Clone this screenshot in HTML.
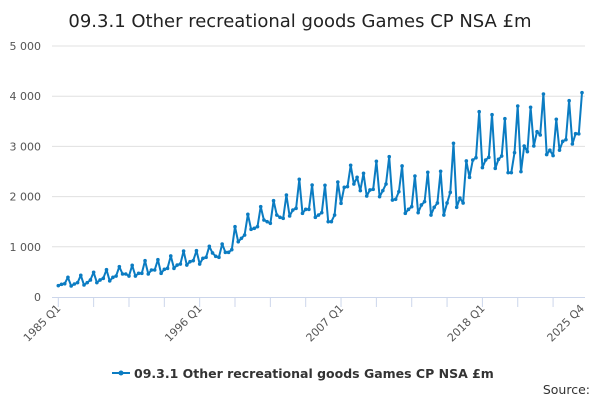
<!DOCTYPE html>
<html><head><meta charset="utf-8"><style>
body{margin:0;background:#fff;font-family:"DejaVu Sans",sans-serif}
svg text{font-family:"DejaVu Sans","Liberation Sans",sans-serif}
</style></head><body>
<svg width="600" height="400" viewBox="0 0 600 400">
<text x="300" y="27" text-anchor="middle" font-size="18" fill="#222">09.3.1 Other recreational goods Games CP NSA £m</text>
<g id="grid"></g>
<g id="xaxis"></g>
<g id="series"></g>
<g>
<line x1="112" y1="373" x2="130" y2="373" stroke="#0b7cc2" stroke-width="2"/>
<circle cx="121" cy="373" r="2.5" fill="#0b7cc2"/>
<text x="134" y="378" font-size="12.5" font-weight="bold" fill="#333">09.3.1 Other recreational goods Games CP NSA £m</text>
</g>
<text x="590" y="394" text-anchor="end" font-size="12.5" fill="#333">Source:</text>
</svg>
<script>
const years=[1985,1986,1987,1988,1989,1990,1991,1992,1993,1994,1995,1996,1997,1998,1999,2000,2001,2002,2003,2004,2005,2006,2007,2008,2009,2010,2011,2012,2013,2014,2015,2016,2017,2018,2019,2020,2021,2022,2023,2024,2025];
const values=[226,252,265,392, 219,259,286,432, 239,286,339,492, 286,339,372,544, 320,392,418,604, 458,458,418,631, 418,471,471,723, 458,538,538,743, 471,551,571,817, 571,637,657,916, 637,704,724,922, 657,770,790,1010, 877,810,790,1056, 890,890,943,1400, 1100,1170,1235,1647, 1348,1368,1401,1800, 1534,1501,1468,1918, 1633,1587,1567,2032, 1614,1733,1766,2344, 1667,1746,1746,2231, 1587,1633,1680,2225, 1501,1501,1633,2291, 1866,2185,2198,2624, 2251,2384,2118,2464, 2012,2132,2145,2703, 1999,2118,2251,2795, 1932,1946,2099,2610, 1667,1746,1800,2410, 1680,1833,1899,2484, 1633,1787,1873,2504, 1633,1873,2085,3062, 1787,1972,1873,2710, 2384,2729,2775,3691, 2577,2729,2782,3631, 2563,2742,2809,3552, 2477,2477,2875,3805, 2497,3008,2895,3779, 3008,3293,3227,4044, 2837,2925,2816,3540, 2925,3101,3134,3910, 3048,3253,3250,4070];
const yTicks=[0,1000,2000,3000,4000,5000];
const yTickLabels=["0","1 000","2 000","3 000","4 000","5 000"];
const xLabelIdx=[0,44,88,132,163];
const xLabels=["1985 Q1","1996 Q1","2007 Q1","2018 Q1","2025 Q4"];
const NS="http://www.w3.org/2000/svg";
const X0=58.3,X1=582,Y0=297,Y1=46,YMAX=5000;
const n=values.length;
const x=i=>X0+i*(X1-X0)/(n-1);
const y=v=>Y0-v*(Y0-Y1)/YMAX;
function mk(tag,attrs,parent){const e=document.createElementNS(NS,tag);for(const k in attrs)e.setAttribute(k,attrs[k]);parent.appendChild(e);return e;}
const grid=document.getElementById('grid');
yTicks.forEach((t,k)=>{
 if(t>0){const l=mk('line',{x1:52,x2:585,y1:y(t),y2:y(t),stroke:'#e0e0e0','stroke-width':1},grid);
 
 }
 const tx=mk('text',{x:41,y:y(t)+4,'text-anchor':'end','font-size':11,fill:'#555'},grid);
 
 
 tx.textContent=yTickLabels[k];
});
const xa=document.getElementById('xaxis');
const ax=mk('line',{x1:52,x2:585,y1:Y0+0.5,y2:Y0+0.5,stroke:'#ccd6eb','stroke-width':1},xa);


for(let i=0;i<n;i+=11){const t=mk('line',{x1:x(i),x2:x(i),y1:Y0,y2:Y0+10,stroke:'#ccd6eb','stroke-width':1},xa);
 
 }
xLabelIdx.forEach((idx,k)=>{
 const px=x(idx)+3,py=Y0+12;
 const t=mk('text',{x:px,y:py,'text-anchor':'end','font-size':11,fill:'#555',transform:`rotate(-45 ${px} ${py})`},xa);
 
 
 t.textContent=xLabels[k];
});
const s=document.getElementById('series');
const pts=values.map((v,i)=>x(i).toFixed(1)+','+y(v).toFixed(1)).join(' ');
const pl=mk('polyline',{points:pts,fill:'none',stroke:'#0b7cc2','stroke-width':2,'stroke-linejoin':'round'},s);


values.forEach((v,i)=>{const c=mk('circle',{cx:x(i),cy:y(v),r:1.8,fill:'#0b7cc2'},s);
 
 });
</script>
</body></html>
